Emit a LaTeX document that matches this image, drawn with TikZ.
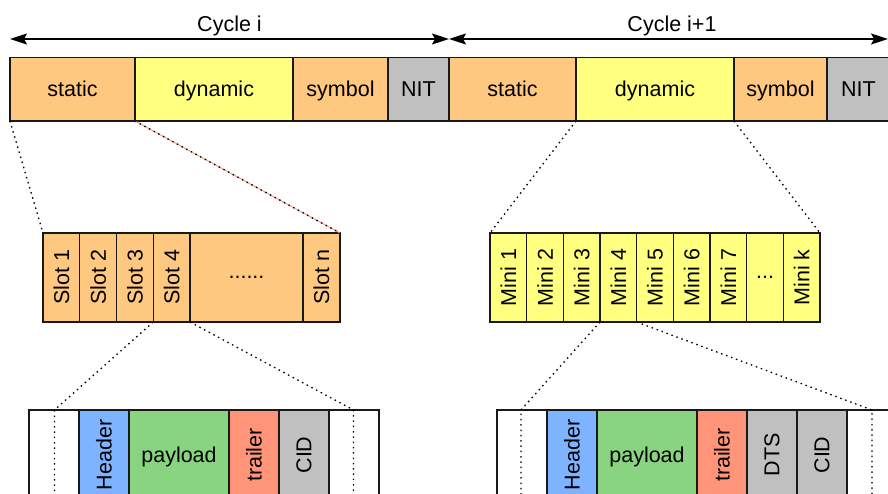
\documentclass[tikz,border=0pt]{standalone}
\usepackage{fontspec}
\setmainfont{Liberation Sans}
\usepackage{graphicx}
\usetikzlibrary{arrows.meta}

\definecolor{boxorange}{RGB}{255,200,128}
\definecolor{boxyellow}{RGB}{255,255,128}
\definecolor{boxgray}{RGB}{192,192,192}
\definecolor{boxblue}{RGB}{126,179,255}
\definecolor{boxgreen}{RGB}{136,212,128}
\definecolor{boxred}{RGB}{255,148,120}
\definecolor{linksalmon}{RGB}{245,160,140}

\begin{document}
\begin{tikzpicture}[x=1pt,y=-1pt,
  font=\fontsize{21.5}{25}\selectfont,
  cell/.style={draw=black!90, line width=1.2pt, inner sep=0pt, outer sep=0pt, anchor=center},
  hcell/.style={cell, text height=15.5pt, text depth=0pt},
  topcell/.style={hcell, minimum height=63.5pt},
  slotcell/.style={cell, fill=boxorange, minimum height=89pt, minimum width=36.75pt},
  minicell/.style={cell, fill=boxyellow, minimum height=89pt, minimum width=36.67pt},
  framecell/.style={cell, minimum height=90pt, minimum width=50pt},
  tip/.tip={Stealth[length=17pt,width=11pt,inset=3pt]},
  cyclearrow/.style={line width=1.3pt, tip-tip},
  zoomline/.style={line width=1.3pt, dash pattern=on 1.5pt off 3.8pt},
]
\useasboundingbox (0,0) rectangle (888,494);
\fill[white] (0,0) rectangle (888,494);
\clip (0,0) rectangle (888,494);

% ---- cycle arrows ----
\coordinate (c1a) at (10,39);
\coordinate (c1b) at (449,39);
\coordinate (c2a) at (449,39);
\coordinate (c2b) at (888,39);
\draw[cyclearrow] (c1a) -- (c1b);
\draw[cyclearrow] (c2a) -- (c2b);
\node[anchor=base] (cyc1) at (229.5,32) {Cycle i};
\node[anchor=base] (cyc2) at (672,32) {Cycle i+1};

% ---- communication cycles ----
\node[topcell, fill=boxorange, minimum width=125pt] (st1) at (72.5,89.25) {static};
\node[topcell, fill=boxyellow, minimum width=158pt] (dy1) at (214,89.25) {dynamic};
\node[topcell, fill=boxorange, minimum width=95pt]  (sy1) at (340.5,89.25) {symbol};
\node[topcell, fill=boxgray,   minimum width=61pt]  (ni1) at (418.5,89.25) {NIT};
\node[topcell, fill=boxorange, minimum width=127pt] (st2) at (512.5,89.25) {static};
\node[topcell, fill=boxyellow, minimum width=158pt] (dy2) at (655,89.25) {dynamic};
\node[topcell, fill=boxorange, minimum width=93pt]  (sy2) at (780.5,89.25) {symbol};
\node[topcell, fill=boxgray,   minimum width=63pt]  (ni2) at (858.5,89.25) {NIT};

% ---- static segment: slots ----
\node[slotcell] (s1) at (61.375,277.5)  {\rotatebox{90}{Slot 1}};
\node[slotcell] (s2) at (98.125,277.5)  {\rotatebox{90}{Slot 2}};
\node[slotcell] (s3) at (134.875,277.5) {\rotatebox{90}{Slot 3}};
\node[slotcell] (s4) at (171.625,277.5) {\rotatebox{90}{Slot 4}};
\node[slotcell, minimum width=113pt] (sdots) at (246.5,277.5) {......};
\node[slotcell, minimum width=37pt] (sn) at (321.5,277.5) {\rotatebox{90}{Slot n}};

% ---- dynamic segment: minislots ----
\node[minicell] (m1) at (508.33,277.5) {\rotatebox{90}{Mini 1}};
\node[minicell] (m2) at (545,277.5)    {\rotatebox{90}{Mini 2}};
\node[minicell] (m3) at (581.67,277.5) {\rotatebox{90}{Mini 3}};
\node[minicell] (m4) at (618.33,277.5) {\rotatebox{90}{Mini 4}};
\node[minicell] (m5) at (655,277.5)    {\rotatebox{90}{Mini 5}};
\node[minicell] (m6) at (691.67,277.5) {\rotatebox{90}{Mini 6}};
\node[minicell] (m7) at (728.33,277.5) {\rotatebox{90}{Mini 7}};
\node[minicell] (md) at (765,277.5)    {...};
\node[minicell] (mk) at (801.67,277.5) {\rotatebox{90}{Mini k}};

% ---- static frame ----
\node[framecell, fill=white] (fa0) at (54,455) {};
\node[framecell, fill=boxblue] (fa1) at (104,455) {\rotatebox{90}{Header}};
\node[framecell, fill=boxgreen, minimum width=100pt, text height=15.5pt, text depth=0pt] (fa2) at (179,455) {payload};
\node[framecell, fill=boxred] (fa3) at (254,455) {\rotatebox{90}{trailer}};
\node[framecell, fill=boxgray] (fa4) at (304,455) {\rotatebox{90}{CID}};
\node[framecell, fill=white] (fa5) at (354,455) {};

% ---- dynamic frame ----
\node[framecell, fill=white] (fb0) at (522,455) {};
\node[framecell, fill=boxblue] (fb1) at (572,455) {\rotatebox{90}{Header}};
\node[framecell, fill=boxgreen, minimum width=100pt, text height=15.5pt, text depth=0pt] (fb2) at (647,455) {payload};
\node[framecell, fill=boxred] (fb3) at (722,455) {\rotatebox{90}{trailer}};
\node[framecell, fill=boxgray] (fb4) at (772,455) {\rotatebox{90}{DTS}};
\node[framecell, fill=boxgray] (fb5) at (822,455) {\rotatebox{90}{CID}};
\node[framecell, fill=white] (fb6) at (872,455) {};

% ---- zoom-in guides ----
\draw[linksalmon, line width=1pt] (st1.south east) -- (sn.north east);
\draw[zoomline] (st1.south west) -- (s1.north west);
\draw[zoomline] (st1.south east) -- (sn.north east);
\draw[zoomline] (dy2.south west) -- (m1.north west);
\draw[zoomline] (dy2.south east) -- (mk.north east);

\coordinate (gal) at (54.5,410);
\coordinate (gar) at (353.5,410);
\coordinate (gbl) at (521,410);
\coordinate (gbr) at (872,410);
\draw[zoomline] (s4.south west) -- (gal) -- ++(0,90);
\draw[zoomline] (s4.south east) -- (gar) -- ++(0,90);
\draw[zoomline] (m4.south west) -- (gbl) -- ++(0,90);
\draw[zoomline] (m4.south east) -- (gbr) -- ++(0,90);
\end{tikzpicture}
\end{document}
